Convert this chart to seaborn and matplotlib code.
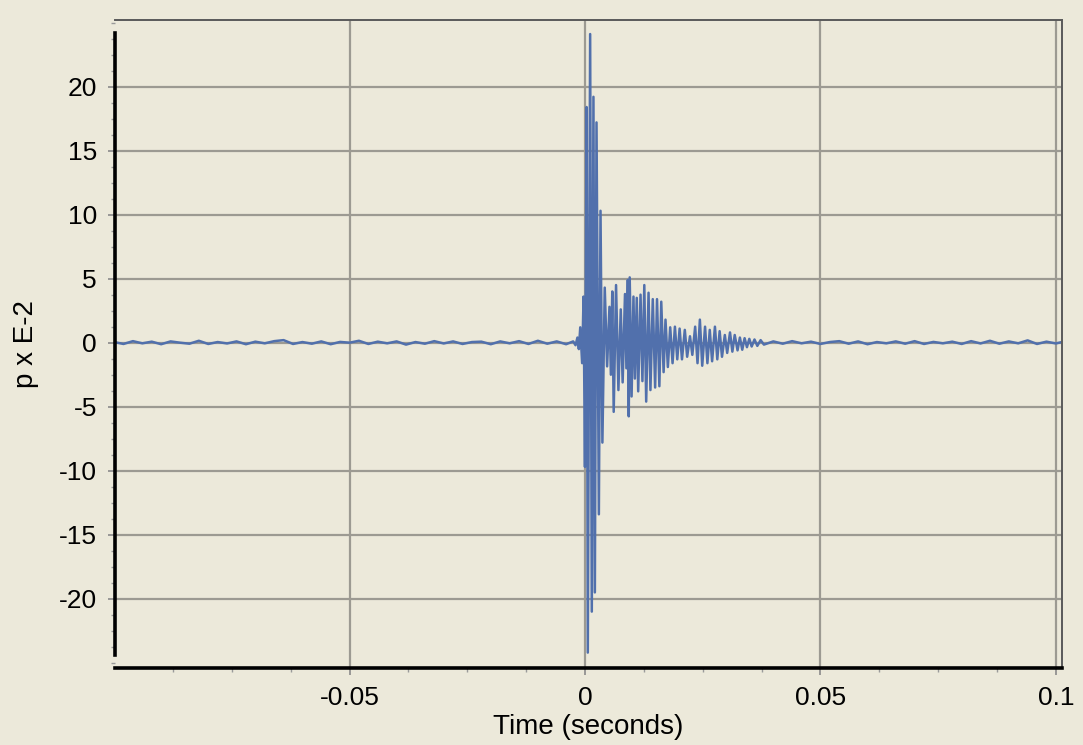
import numpy as np
import pandas as pd
import seaborn as sns
import matplotlib
matplotlib.use("Agg")
import matplotlib.pyplot as plt
from matplotlib.ticker import MultipleLocator

# quiet part before the burst (ms, p x E-2)
head_t = [-100, -98, -96, -94, -92, -90, -88, -86, -84, -82,
          -80, -78, -76, -74, -72, -70, -68, -66, -64, -62,
          -60, -58, -56, -54, -52, -50, -48, -46, -44, -42,
          -40, -38, -36, -34, -32, -30, -28, -26, -24, -22,
          -20, -18, -16, -14, -12, -10, -8, -6, -4]
head_p = [0.05, -0.10, 0.12, -0.05, 0.08, -0.12, 0.10, 0.00, -0.08, 0.15,
          -0.10, 0.05, -0.06, 0.10, -0.12, 0.08, -0.05, 0.12, 0.20, -0.10,
          0.05, -0.08, 0.10, -0.12, 0.06, 0.00, 0.15, -0.10, 0.08, -0.05,
          0.10, -0.15, 0.05, -0.08, 0.12, -0.06, 0.10, -0.10, 0.05, 0.08,
          -0.12, 0.10, -0.05, 0.12, -0.10, 0.15, -0.08, 0.10, -0.12]

# the burst, peaks
burst_t = [-2.5, -2.0, -1.6, -1.3, -1.0, -0.6, -0.3, 0.0, 0.35, 0.6,
           1.1, 1.45, 1.8, 2.1, 2.45, 2.95, 3.3, 3.7, 4.2, 4.7,
           5.2, 5.5, 5.8, 6.1, 6.6, 7.1, 7.6, 8.0, 8.5, 8.8,
           9.1, 9.3, 9.5, 9.9, 10.3, 10.6, 11.0, 11.3, 11.8, 12.2,
           12.6, 13.0, 13.5, 13.9, 14.4, 14.9, 15.3, 15.8, 16.2, 16.7,
           17.1, 17.6, 18.1, 18.6, 19.1, 19.6, 20.1, 20.6, 21.2, 21.7,
           22.3, 22.8, 23.4, 23.9, 24.4, 24.9, 25.5, 26.0, 26.5, 27.0,
           27.6, 28.1, 28.6, 29.1, 29.7, 30.2, 30.8, 31.3, 31.8, 32.4,
           32.9, 33.4, 33.9, 34.4, 34.9, 35.4, 36.0, 36.6, 37.3]
burst_p = [0.10, -0.20, 0.40, -0.50, 1.20, -1.60, 3.60, -9.7, 18.4, -24.2,
           24.1, -21.0, 19.2, -19.5, 17.2, -13.4, 10.3, -7.8, 4.3, -1.85,
           2.8, -2.5, 4.0, -5.4, 4.5, -3.7, 2.6, -3.1, 3.8, -2.0,
           4.9, -5.75, 5.1, -4.2, 3.6, -2.8, 3.5, -3.8, 3.75, -3.0,
           4.5, -4.6, 3.9, -3.7, 3.4, -3.5, 3.4, -3.4, 3.2, -2.3,
           1.8, -1.9, 1.2, -1.6, 1.25, -1.3, 1.1, -1.3, 1.0, -1.1,
           0.5, -0.95, 1.25, -1.6, 1.8, -1.8, 1.25, -1.6, 1.0, -1.45,
           1.25, -1.3, 0.9, -1.1, 0.6, -0.8, 0.8, -0.7, 0.6, -0.6,
           0.4, -0.55, 0.35, -0.35, 0.3, -0.3, 0.25, -0.25, 0.2]

# quiet part after the burst
tail_t = [38, 40, 42, 44, 46, 48, 50, 52, 54, 56,
          58, 60, 62, 64, 66, 68, 70, 72, 74, 76,
          78, 80, 82, 84, 86, 88, 90, 92, 94, 96,
          98, 100, 101.3]
tail_p = [-0.15, 0.10, -0.08, 0.12, -0.05, 0.08, -0.10, 0.05, 0.12, -0.08,
          0.10, -0.12, 0.05, -0.05, 0.10, -0.08, 0.12, -0.10, 0.06, -0.05,
          0.08, -0.10, 0.12, -0.06, 0.15, -0.08, 0.10, -0.05, 0.18, -0.10,
          0.08, -0.06, 0.05]

x_ticks = [-0.05, 0, 0.05, 0.1]
x_tick_labels = ["-0.05", "0", "0.05", "0.1"]
y_ticks = [-20, -15, -10, -5, 0, 5, 10, 15, 20]
y_tick_labels = ["-20", "-15", "-10", "-5", "0", "5", "10", "15", "20"]

df = pd.DataFrame({
    "t": np.array(head_t + burst_t + tail_t) / 1000.0,
    "p": head_p + burst_p + tail_p,
})

bg = "#ECE9DA"
sns.set_style("ticks")
plt.rcParams["font.family"] = ["Liberation Sans", "DejaVu Sans"]
plt.rcParams["axes.unicode_minus"] = False
plt.rcParams["text.color"] = "black"
plt.rcParams["axes.labelcolor"] = "black"
plt.rcParams["xtick.labelcolor"] = "black"
plt.rcParams["ytick.labelcolor"] = "black"

fig = plt.figure(figsize=(10.83, 7.45), dpi=100, facecolor=bg)
ax = fig.add_axes([0.1062, 0.1034, 0.8744, 0.8698])
ax.set_facecolor(bg)

sns.lineplot(data=df, x="t", y="p", estimator=None, sort=False,
             color="#5170AC", linewidth=1.8, ax=ax)

ax.set_xlim(-0.0998, 0.1013)
ax.set_ylim(-25.4, 25.2)

ax.set_xticks(x_ticks)
ax.set_xticklabels(x_tick_labels)
ax.set_yticks(y_ticks)
ax.set_yticklabels(y_tick_labels)
ax.xaxis.set_minor_locator(MultipleLocator(0.0125))
ax.yaxis.set_minor_locator(MultipleLocator(1.25))

ax.grid(True, which="major", color="#9C9A92", linewidth=1.6)
ax.set_axisbelow(True)

ax.tick_params(axis="both", which="major", labelsize=19, length=5,
               width=1.2, color="#8A8A8A", pad=8, labelcolor="black")
ax.tick_params(axis="both", which="minor", length=3, width=1.0,
               color="#9A9A9A")

for side in ["top", "right"]:
    ax.spines[side].set_color("#5A5A5A")
    ax.spines[side].set_linewidth(1.4)
ax.spines["left"].set_color("black")
ax.spines["left"].set_linewidth(2.6)
ax.spines["left"].set_bounds(-24.4, 24.2)
ax.spines["bottom"].set_color("black")
ax.spines["bottom"].set_linewidth(2.6)

ax.set_xlabel("Time (seconds)", fontsize=20, labelpad=3, color="black")
ax.set_ylabel("p x E-2", fontsize=20, labelpad=14, color="black")

fig.savefig("out.png", dpi=100, facecolor=bg)
